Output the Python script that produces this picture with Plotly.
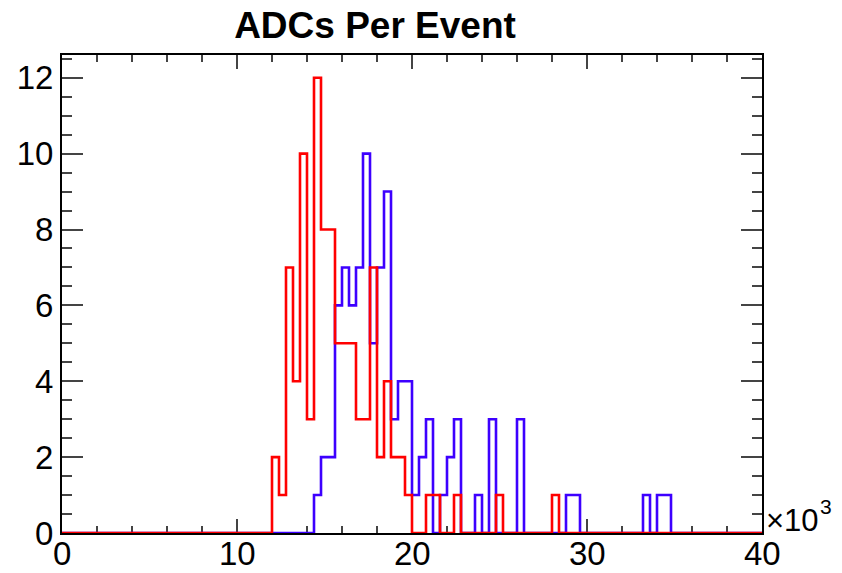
import numpy as np
import plotly.graph_objects as go

# Histogram binning: 100 bins of width 400 from 0 to 40000
x_min = 0
x_max = 40000
n_bins = 100

# Non-zero bin contents (bin index -> count)
red_bins = [30, 31, 32, 33, 34, 35, 36, 37, 38, 39, 40, 41, 42, 43, 44, 45, 46, 47, 48, 49, 52, 53, 56, 62, 70]
red_counts = [2, 1, 7, 4, 10, 3, 12, 8, 8, 5, 5, 5, 3, 3, 7, 2, 4, 2, 2, 1, 1, 1, 1, 1, 1]

blue_bins = [36, 37, 38, 39, 40, 41, 42, 43, 44, 45, 46, 47, 48, 49, 50, 51, 52, 54, 55, 56, 59, 61, 65, 72, 73, 83, 85, 86]
blue_counts = [1, 2, 2, 6, 7, 6, 7, 10, 5, 7, 9, 3, 4, 4, 1, 2, 3, 1, 2, 3, 1, 3, 3, 1, 1, 1, 1, 1]

x_tickvals = [0, 10000, 20000, 30000, 40000]
x_ticktext = ["0", "10", "20", "30", "40"]
y_tickvals = [0, 2, 4, 6, 8, 10, 12]

title = "ADCs Per Event"

edges = np.linspace(x_min, x_max, n_bins + 1)


def full_hist(bins, counts):
    h = np.zeros(n_bins)
    for b, c in zip(bins, counts):
        h[b] = c
    return h


def step_xy(h):
    return edges, np.append(h, h[-1])


fig = go.Figure()
for bins, counts, color in [(blue_bins, blue_counts, "#3d00ff"), (red_bins, red_counts, "#ff0000")]:
    sx, sy = step_xy(full_hist(bins, counts))
    fig.add_trace(go.Scatter(x=sx, y=sy, mode="lines", line=dict(shape="hv", color=color, width=2.6),
                             showlegend=False, hoverinfo="skip"))

font_family = "Liberation Sans, Arial, Helvetica, sans-serif"

fig.update_layout(
    width=842, height=573,
    margin=dict(l=62, r=80, t=55, b=40, autoexpand=False),
    paper_bgcolor="white", plot_bgcolor="white",
    font=dict(family=font_family, color="black", size=33),
    title=dict(text="<b>" + title + "</b>", x=375 / 842, xanchor="center", y=1 - 25 / 573, yanchor="middle",
               font=dict(size=37, family=font_family, color="black")),
    showlegend=False,
)

fig.update_xaxes(
    range=[x_min, x_max], showgrid=False, zeroline=False, automargin=False,
    showline=True, linecolor="black", linewidth=2, mirror="ticks",
    ticks="inside", ticklen=14, tickwidth=1.5, tickcolor="#444444",
    tickvals=x_tickvals, showticklabels=False,
    minor=dict(dtick=2000, tick0=0, ticks="inside", ticklen=7, tickwidth=1.5, tickcolor="#444444", showgrid=False),
    layer="below traces",
)
fig.update_yaxes(
    range=[0, 12.6], showgrid=False, zeroline=False, automargin=False,
    showline=True, linecolor="black", linewidth=2, mirror="ticks",
    ticks="inside", ticklen=21, tickwidth=1.5, tickcolor="#444444",
    tickvals=y_tickvals,
    tickfont=dict(size=33, family=font_family),
    minor=dict(dtick=0.5, tick0=0, ticks="inside", ticklen=10, tickwidth=1.5, tickcolor="#444444", showgrid=False),
    layer="below traces",
)

# x tick labels placed close under the axis, as in the ROOT-style original
for v, t in zip(x_tickvals, x_ticktext):
    fig.add_annotation(text=t, x=v, xref="x", y=0, yref="paper", xanchor="center", yanchor="top",
                       yshift=0, showarrow=False, font=dict(size=33, family=font_family, color="black"))

# axis multiplier "×10^3"
fig.add_annotation(text="×10", xref="paper", yref="paper", x=1.0, y=0.0,
                   xanchor="left", yanchor="bottom", xshift=2, yshift=-7, showarrow=False,
                   font=dict(size=31, family=font_family, color="black"))
fig.add_annotation(text="3", xref="paper", yref="paper", x=1.0, y=0.0,
                   xanchor="left", yanchor="bottom", xshift=56, yshift=13, showarrow=False,
                   font=dict(size=21, family=font_family, color="black"))

fig.write_html("out.html")
